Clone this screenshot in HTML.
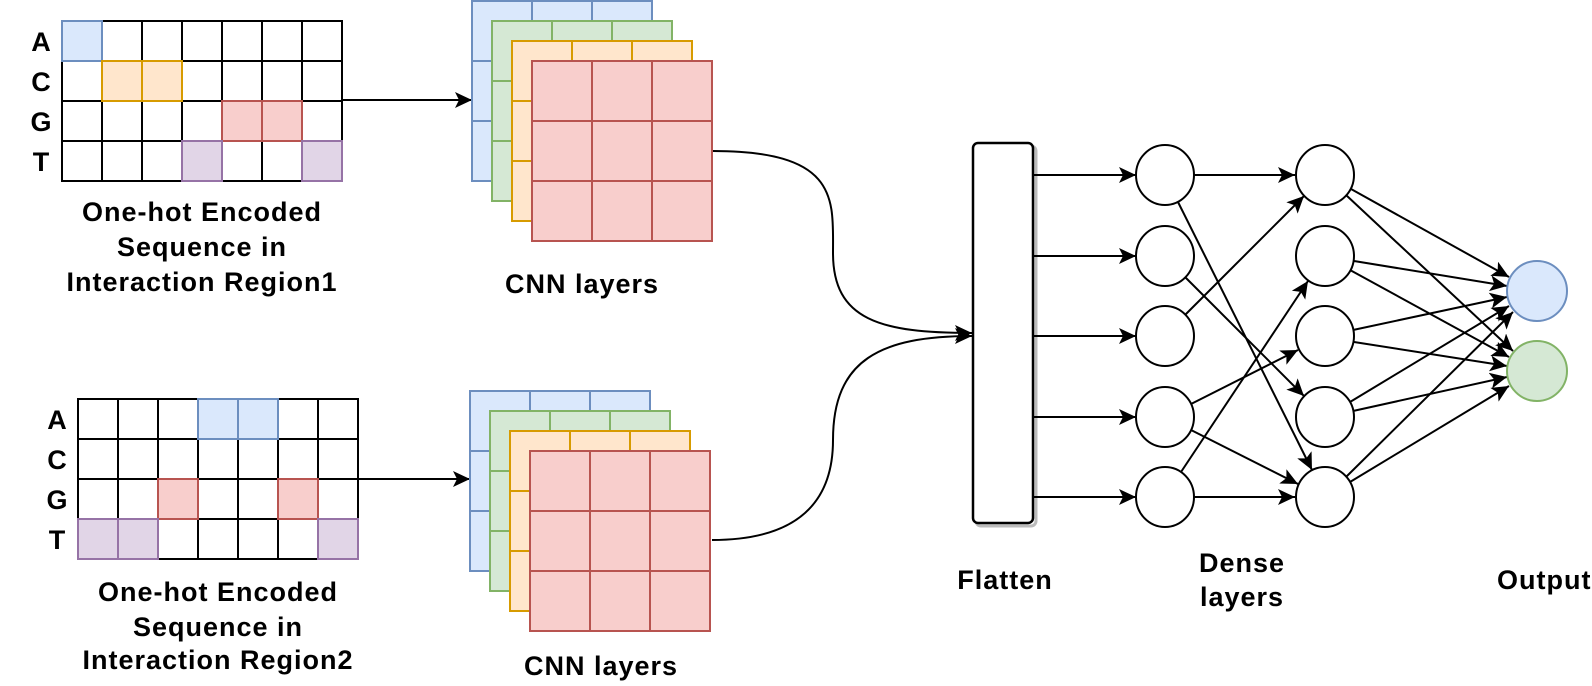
<!DOCTYPE html>
<html><head><meta charset="utf-8"><style>
html,body{margin:0;padding:0;background:#fff}
svg{display:block}
text{font-family:"Liberation Sans",Arial,sans-serif;font-weight:bold;fill:#000}
</style></head><body>
<svg width="1592" height="686" viewBox="0 0 1592 686" xmlns="http://www.w3.org/2000/svg">
<defs>
<marker id="ar" markerUnits="userSpaceOnUse" markerWidth="20" markerHeight="18" refX="17" refY="8" orient="auto">
<path d="M0,0 L17,8 L0,16 L4,8 z" fill="#000"/>
</marker>
</defs>

<!-- Grid 1 -->
<g stroke-width="2">
<rect x="62" y="21" width="40" height="40" fill="#dae8fc"/>
<rect x="102" y="61" width="80" height="40" fill="#ffe6cc"/>
<rect x="222" y="101" width="80" height="40" fill="#f8cecc"/>
<rect x="182" y="141" width="40" height="40" fill="#e1d5e7"/>
<rect x="302" y="141" width="40" height="40" fill="#e1d5e7"/>
<path d="M62,21H342V181H62Z M102,21V181 M142,21V181 M182,21V181 M222,21V181 M262,21V181 M302,21V181 M62,61H342 M62,101H342 M62,141H342" fill="none" stroke="#000"/>
<rect x="62" y="21" width="40" height="40" fill="none" stroke="#6c8ebf"/>
<rect x="102" y="61" width="40" height="40" fill="none" stroke="#d79b00"/>
<rect x="142" y="61" width="40" height="40" fill="none" stroke="#d79b00"/>
<rect x="222" y="101" width="40" height="40" fill="none" stroke="#b85450"/>
<rect x="262" y="101" width="40" height="40" fill="none" stroke="#b85450"/>
<rect x="182" y="141" width="40" height="40" fill="none" stroke="#9673a6"/>
<rect x="302" y="141" width="40" height="40" fill="none" stroke="#9673a6"/>
</g>
<g font-size="27" text-anchor="middle">
<text x="41" y="51">A</text><text x="41" y="91">C</text><text x="41" y="131">G</text><text x="41" y="171">T</text>
</g>
<line x1="342" y1="100" x2="472" y2="100" stroke="#000" stroke-width="2" marker-end="url(#ar)"/>

<!-- Grid 2 -->
<g stroke-width="2">
<rect x="198" y="399" width="80" height="40" fill="#dae8fc"/>
<rect x="158" y="479" width="40" height="40" fill="#f8cecc"/>
<rect x="278" y="479" width="40" height="40" fill="#f8cecc"/>
<rect x="78" y="519" width="80" height="40" fill="#e1d5e7"/>
<rect x="318" y="519" width="40" height="40" fill="#e1d5e7"/>
<path d="M78,399H358V559H78Z M118,399V559 M158,399V559 M198,399V559 M238,399V559 M278,399V559 M318,399V559 M78,439H358 M78,479H358 M78,519H358" fill="none" stroke="#000"/>
<rect x="198" y="399" width="40" height="40" fill="none" stroke="#6c8ebf"/>
<rect x="238" y="399" width="40" height="40" fill="none" stroke="#6c8ebf"/>
<rect x="158" y="479" width="40" height="40" fill="none" stroke="#b85450"/>
<rect x="278" y="479" width="40" height="40" fill="none" stroke="#b85450"/>
<rect x="78" y="519" width="40" height="40" fill="none" stroke="#9673a6"/>
<rect x="118" y="519" width="40" height="40" fill="none" stroke="#9673a6"/>
<rect x="318" y="519" width="40" height="40" fill="none" stroke="#9673a6"/>
</g>
<g font-size="27" text-anchor="middle">
<text x="57" y="429">A</text><text x="57" y="469">C</text><text x="57" y="509">G</text><text x="57" y="549">T</text>
</g>
<line x1="358" y1="479" x2="470" y2="479" stroke="#000" stroke-width="2" marker-end="url(#ar)"/>

<!-- CNN stack 1 -->
<g stroke-width="2">
<g transform="translate(472,1)"><rect width="180" height="180" fill="#dae8fc" stroke="#6c8ebf"/><path d="M60,0V180M120,0V180M0,60H180M0,120H180" stroke="#6c8ebf"/></g>
<g transform="translate(492,21)"><rect width="180" height="180" fill="#d5e8d4" stroke="#82b366"/><path d="M60,0V180M120,0V180M0,60H180M0,120H180" stroke="#82b366"/></g>
<g transform="translate(512,41)"><rect width="180" height="180" fill="#ffe6cc" stroke="#d79b00"/><path d="M60,0V180M120,0V180M0,60H180M0,120H180" stroke="#d79b00"/></g>
<g transform="translate(532,61)"><rect width="180" height="180" fill="#f8cecc" stroke="#b85450"/><path d="M60,0V180M120,0V180M0,60H180M0,120H180" stroke="#b85450"/></g>
</g>
<!-- CNN stack 2 -->
<g stroke-width="2">
<g transform="translate(470,391)"><rect width="180" height="180" fill="#dae8fc" stroke="#6c8ebf"/><path d="M60,0V180M120,0V180M0,60H180M0,120H180" stroke="#6c8ebf"/></g>
<g transform="translate(490,411)"><rect width="180" height="180" fill="#d5e8d4" stroke="#82b366"/><path d="M60,0V180M120,0V180M0,60H180M0,120H180" stroke="#82b366"/></g>
<g transform="translate(510,431)"><rect width="180" height="180" fill="#ffe6cc" stroke="#d79b00"/><path d="M60,0V180M120,0V180M0,60H180M0,120H180" stroke="#d79b00"/></g>
<g transform="translate(530,451)"><rect width="180" height="180" fill="#f8cecc" stroke="#b85450"/><path d="M60,0V180M120,0V180M0,60H180M0,120H180" stroke="#b85450"/></g>
</g>

<!-- Labels -->
<g font-size="27" text-anchor="middle" letter-spacing="1">
<text x="202" y="221">One-hot Encoded</text>
<text x="202" y="256">Sequence in</text>
<text x="202" y="291">Interaction Region1</text>
<text x="582" y="293">CNN layers</text>
<text x="218" y="601">One-hot Encoded</text>
<text x="218" y="636">Sequence in</text>
<text x="218" y="669">Interaction Region2</text>
<text x="601" y="675">CNN layers</text>
<text x="1005" y="589">Flatten</text>
<text x="1242" y="572">Dense</text>
<text x="1242" y="606">layers</text>
<text x="1497" y="589" text-anchor="start">Output</text>
</g>

<!-- curves -->
<path d="M713,151 C840,151 833,200 833,253 C833,320 880,333 972,333" fill="none" stroke="#000" stroke-width="2" marker-end="url(#ar)"/>
<path d="M712,540 C800,540 833,500 833,440 C833,360 880,336 972,336" fill="none" stroke="#000" stroke-width="2" marker-end="url(#ar)"/>

<!-- Flatten -->
<rect x="976" y="146" width="60" height="380" rx="5" fill="none" stroke="#bbb" stroke-width="3"/>
<rect x="973" y="143" width="60" height="380" rx="5" fill="#fff" stroke="#000" stroke-width="2.5"/>

<g stroke="#000" stroke-width="2" marker-end="url(#ar)">
<line x1="1033" y1="175" x2="1136" y2="175"/>
<line x1="1033" y1="256" x2="1136" y2="256"/>
<line x1="1033" y1="336" x2="1136" y2="336"/>
<line x1="1033" y1="417" x2="1136" y2="417"/>
<line x1="1033" y1="497" x2="1136" y2="497"/>
<line x1="1194" y1="175" x2="1295" y2="175"/>
<line x1="1178" y1="202" x2="1312" y2="470"/>
<line x1="1185" y1="277" x2="1304" y2="396"/>
<line x1="1185" y1="315" x2="1304" y2="196"/>
<line x1="1191" y1="404" x2="1298" y2="350"/>
<line x1="1191" y1="430" x2="1298" y2="484"/>
<line x1="1181" y1="472" x2="1308" y2="281"/>
<line x1="1194" y1="497" x2="1295" y2="497"/>
<line x1="1351" y1="189" x2="1509" y2="277"/>
<line x1="1346" y1="195" x2="1513" y2="351"/>
<line x1="1354" y1="261" x2="1507" y2="286"/>
<line x1="1350" y1="270" x2="1509" y2="357"/>
<line x1="1353" y1="330" x2="1507" y2="297"/>
<line x1="1354" y1="342" x2="1507" y2="366"/>
<line x1="1350" y1="402" x2="1509" y2="306"/>
<line x1="1353" y1="411" x2="1507" y2="377"/>
<line x1="1346" y1="477" x2="1513" y2="312"/>
<line x1="1350" y1="482" x2="1509" y2="386"/>
</g>

<g fill="#fff" stroke="#000" stroke-width="2">
<ellipse cx="1165" cy="175" rx="29" ry="30"/>
<ellipse cx="1165" cy="256" rx="29" ry="30"/>
<ellipse cx="1165" cy="336" rx="29" ry="30"/>
<ellipse cx="1165" cy="417" rx="29" ry="30"/>
<ellipse cx="1165" cy="497" rx="29" ry="30"/>
<ellipse cx="1325" cy="175" rx="29" ry="30"/>
<ellipse cx="1325" cy="256" rx="29" ry="30"/>
<ellipse cx="1325" cy="336" rx="29" ry="30"/>
<ellipse cx="1325" cy="417" rx="29" ry="30"/>
<ellipse cx="1325" cy="497" rx="29" ry="30"/>
</g>
<circle cx="1537" cy="291" r="30" fill="#dae8fc" stroke="#6c8ebf" stroke-width="2"/>
<circle cx="1537" cy="371" r="30" fill="#d5e8d4" stroke="#82b366" stroke-width="2"/>
</svg>
</body></html>
